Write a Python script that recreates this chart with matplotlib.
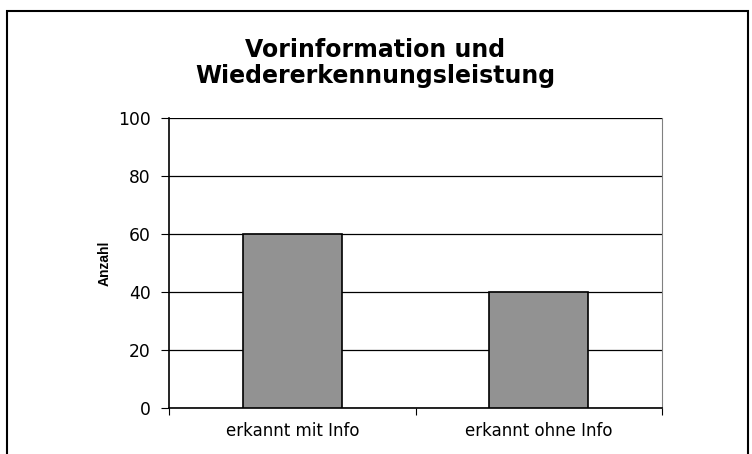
import matplotlib.pyplot as plt
from matplotlib.patches import Rectangle

# Daten
kategorien = ['erkannt mit Info', 'erkannt ohne Info']
anzahl = [60, 40]
y_ticks = [0, 20, 40, 60, 80, 100]

fig = plt.figure(figsize=(7.52, 4.54), dpi=100)
fig.patch.set_facecolor('white')

# Rahmen um das Diagramm (unten abgeschnitten)
fig.patches.append(Rectangle((7 / 752, -0.05), 741 / 752, 1 - 11 / 454 + 0.05,
                             transform=fig.transFigure, fill=False,
                             edgecolor='black', linewidth=1.5))

ax = fig.add_axes([169 / 752, 1 - 408 / 454, 493 / 752, 290 / 454])

x = range(len(kategorien))
ax.bar(x, anzahl, width=0.4, color='#929292', edgecolor='black', linewidth=1.2, zorder=3)

ax.set_xlim(-0.5, 1.5)
ax.set_ylim(0, 100)
ax.set_yticks(y_ticks)
ax.set_yticklabels([str(v) for v in y_ticks], fontsize=12.3)
ax.yaxis.grid(True, color='black', linewidth=0.9, zorder=0)

# Kategorien-Beschriftungen und Teilstriche zwischen den Kategorien
ax.set_xticks([-0.5, 0.5, 1.5])
ax.set_xticklabels([])
ax.set_xticks(list(x), minor=True)
ax.set_xticklabels(kategorien, minor=True, fontsize=12)
ax.tick_params(axis='x', which='minor', length=0, pad=10)
ax.tick_params(axis='x', which='major', length=5, direction='out')
ax.tick_params(axis='y', length=6, direction='out', pad=7)

for s in ['left', 'bottom']:
    ax.spines[s].set_linewidth(1.2)
    ax.spines[s].set_color('black')
ax.spines['right'].set_color('#808080')
ax.spines['top'].set_visible(False)

ax.set_ylabel('Anzahl', fontsize=10, fontweight='bold', family='Liberation Sans', labelpad=5)

fig.text(375 / 752, 1 - 63 / 454, 'Vorinformation und\nWiedererkennungsleistung',
         ha='center', va='center', fontsize=17, fontweight='bold', linespacing=1.1)

fig.savefig('out.png', dpi=100)
